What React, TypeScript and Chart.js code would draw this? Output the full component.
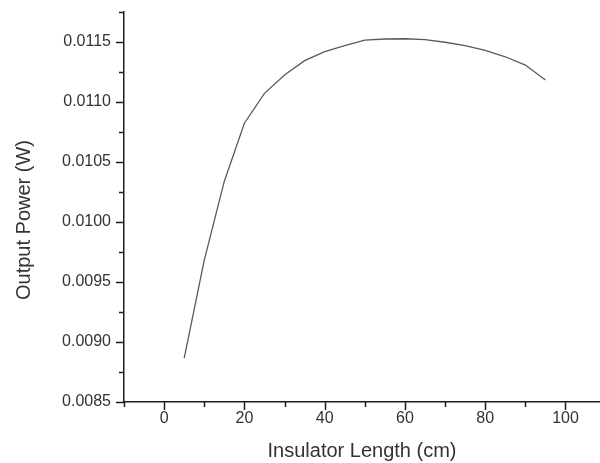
import React, { useEffect, useRef } from 'react';
import { Chart, registerables } from 'chart.js';

Chart.register(...registerables);

// ---- data ----
const insulatorLength = [5, 10, 15, 20, 25, 30, 35, 40, 45, 50, 55, 60, 65, 70, 75, 80, 85, 90, 95];
const outputPower = [
  0.008865, 0.009683, 0.01034, 0.010823, 0.011072, 0.011225, 0.011345, 0.011419, 0.011469,
  0.011515, 0.011525, 0.011527, 0.01152, 0.011498, 0.01147, 0.01143, 0.011377, 0.011308, 0.011183,
];

const xMin = -10;
const xMax = 108.6;
const yMin = 0.0085;
const yMax = 0.01175;

const xMajorTicks = [0, 20, 40, 60, 80, 100];
const xMinorTicks = [-10, 10, 30, 50, 70, 90];
const yMajorTicks = [0.0085, 0.009, 0.0095, 0.01, 0.0105, 0.011, 0.0115];
const yMinorTicks = [0.00875, 0.00925, 0.00975, 0.01025, 0.01075, 0.01125, 0.01175];

const xTitle = 'Insulator Length (cm)';
const yTitle = 'Output Power (W)';

const AXIS_COLOR = '#1e1e1e';
const TEXT_COLOR = '#333333';
const FONT = 'Liberation Sans, Arial, sans-serif';

const tickMarksPlugin = {
  id: 'tickMarks',
  afterDraw(chart: any) {
    const { ctx, chartArea } = chart;
    const xs = chart.scales.x;
    const ys = chart.scales.y;
    ctx.save();
    ctx.strokeStyle = AXIS_COLOR;
    ctx.lineWidth = 1.5;
    ctx.beginPath();
    const left = chartArea.left;
    const bottom = chartArea.bottom;
    yMajorTicks.forEach((v) => {
      const p = Math.round(ys.getPixelForValue(v)) + 0.5;
      ctx.moveTo(left - 8, p);
      ctx.lineTo(left, p);
    });
    yMinorTicks.forEach((v) => {
      const p = Math.round(ys.getPixelForValue(v)) + 0.5;
      ctx.moveTo(left - 5, p);
      ctx.lineTo(left, p);
    });
    xMajorTicks.forEach((v) => {
      const p = Math.round(xs.getPixelForValue(v)) + 0.5;
      ctx.moveTo(p, bottom);
      ctx.lineTo(p, bottom + 8);
    });
    xMinorTicks.forEach((v) => {
      const p = Math.round(xs.getPixelForValue(v)) + 0.5;
      ctx.moveTo(p, bottom);
      ctx.lineTo(p, bottom + 5);
    });
    ctx.stroke();

    // y-axis title, set slightly below the plot centre as in the reference
    ctx.fillStyle = TEXT_COLOR;
    ctx.font = `20px ${FONT}`;
    ctx.textAlign = 'center';
    ctx.textBaseline = 'middle';
    ctx.translate(24, (chartArea.top + chartArea.bottom) / 2 + 13);
    ctx.rotate(-Math.PI / 2);
    ctx.fillText(yTitle, 0, 0);
    ctx.restore();
  },
};

export default function App() {
  const canvasRef = useRef<HTMLCanvasElement | null>(null);

  useEffect(() => {
    if (!canvasRef.current) return;
    const chart = new Chart(canvasRef.current, {
      type: 'line',
      data: {
        datasets: [
          {
            data: insulatorLength.map((x, i) => ({ x, y: outputPower[i] })),
            borderColor: '#5a5a5a',
            borderWidth: 1.3,
            pointRadius: 0,
            tension: 0,
            fill: false,
          },
        ],
      },
      options: {
        animation: false,
        responsive: true,
        maintainAspectRatio: false,
        layout: { padding: { top: 12, left: 0, right: 0, bottom: 0 } },
        plugins: {
          legend: { display: false },
          tooltip: { enabled: false },
        },
        scales: {
          x: {
            type: 'linear',
            min: xMin,
            max: xMax,
            afterBuildTicks: (scale: any) => {
              scale.ticks = xMajorTicks.map((v) => ({ value: v }));
            },
            afterFit: (scale: any) => {
              scale.height = 61;
              scale.paddingLeft = 0;
              scale.paddingRight = 0;
            },
            grid: { display: false, drawTicks: false, tickLength: 0 },
            border: { display: true, color: AXIS_COLOR, width: 1.5 },
            ticks: {
              color: TEXT_COLOR,
              font: { family: FONT, size: 16 },
              padding: 7,
              maxRotation: 0,
              autoSkip: false,
              callback: (v: any) => String(v),
            },
            title: {
              display: true,
              text: xTitle,
              color: TEXT_COLOR,
              font: { family: FONT, size: 20 },
              padding: { top: 0, bottom: 0 },
            },
          },
          y: {
            type: 'linear',
            min: yMin,
            max: yMax,
            afterBuildTicks: (scale: any) => {
              scale.ticks = yMajorTicks.map((v) => ({ value: v }));
            },
            afterFit: (scale: any) => {
              scale.width = 124;
              scale.paddingTop = 0;
              scale.paddingBottom = 0;
            },
            grid: { display: false, drawTicks: false, tickLength: 0 },
            border: { display: true, color: AXIS_COLOR, width: 1.5 },
            ticks: {
              color: TEXT_COLOR,
              font: { family: FONT, size: 16 },
              padding: 13,
              autoSkip: false,
              callback: (v: any) => Number(v).toFixed(4),
            },
            title: { display: false },
          },
        },
      },
      plugins: [tickMarksPlugin],
    });
    return () => chart.destroy();
  }, []);

  return (
    <div style={{ position: 'absolute', left: 0, top: 0, width: 600, height: 463, background: '#ffffff' }}>
      <canvas ref={canvasRef} />
    </div>
  );
}
